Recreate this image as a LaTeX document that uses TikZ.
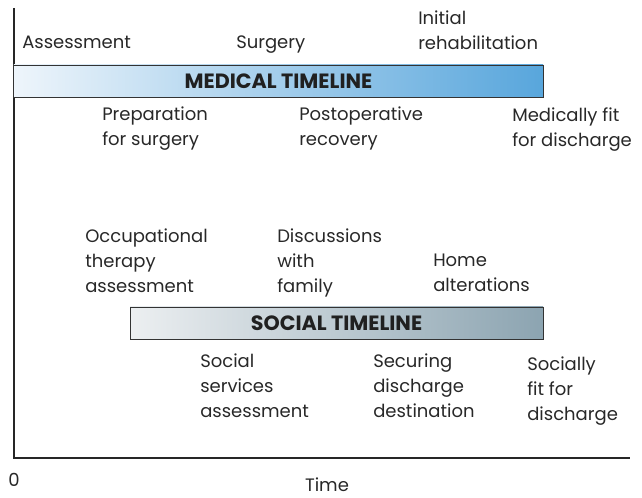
\documentclass[tikz,border=0pt]{standalone}
\usepackage{fontspec}
\setmainfont{Poppins}
\usetikzlibrary{positioning}
\definecolor{medblue}{RGB}{88,166,220}
\definecolor{medpale}{RGB}{238,245,251}
\definecolor{socgray}{RGB}{140,164,177}
\definecolor{socpale}{RGB}{236,239,241}
\definecolor{inkgray}{RGB}{40,40,40}

\begin{document}
\begin{tikzpicture}[
  x=0.75pt, y=-0.75pt,
  lbl/.style={
    anchor=north west, inner sep=0pt, align=left, text=inkgray,
    font=\fontsize{13.5}{18.75}\selectfont},
  bar/.style={
    draw=black!80, line width=0.6pt, inner sep=0pt,
    minimum height=24pt, text=inkgray!80!black,
    font=\fontsize{15.5}{17}\selectfont\bfseries},
  axisline/.style={draw=black!85, line width=0.9pt},
]
\useasboundingbox (0,0) rectangle (642,498);

%% AXES
\coordinate (ytop) at (14,8);
\coordinate (orig) at (14,458);
\coordinate (xend) at (630,458);
\draw[axisline] (ytop) -- (orig) -- (xend);
\node[lbl, anchor=center] (zero) at (14,480) {0};
\node[lbl, anchor=center] (time) at (327,485) {Time};

%% MEDICAL TIMELINE
\node[bar, minimum width=397pt, left color=medpale, right color=medblue]
  (med) at (278.5,81) {MEDICAL TIMELINE};

\node[lbl] (assess)  at (22,36)  {Assessment};
\node[lbl] (surgery) at (236,36) {Surgery};
\node[lbl] (rehab)   at (418,11) {Initial\\rehabilitation};

\node[lbl] (prep)    at (102,107) {Preparation\\for surgery};
\node[lbl] (postop)  at (299,107) {Postoperative\\recovery};
\node[lbl] (medfit)  at (512,107) {Medically fit\\for discharge};

%% SOCIAL TIMELINE
\node[bar, minimum width=309.75pt, left color=socpale, right color=socgray]
  (soc) at (336.5,323) {SOCIAL TIMELINE};

\node[lbl] (occther) at (85,229)  {Occupational\\therapy\\assessment};
\node[lbl] (family)  at (277,229) {Discussions\\with\\family};
\node[lbl] (home)    at (433,254) {Home\\alterations};

\node[lbl] (socserv) at (200,354) {Social\\services\\assessment};
\node[lbl] (secure)  at (373,354) {Securing\\discharge\\destination};
\node[lbl] (socfit)  at (527,357) {Socially\\fit for\\discharge};

\end{tikzpicture}
\end{document}
